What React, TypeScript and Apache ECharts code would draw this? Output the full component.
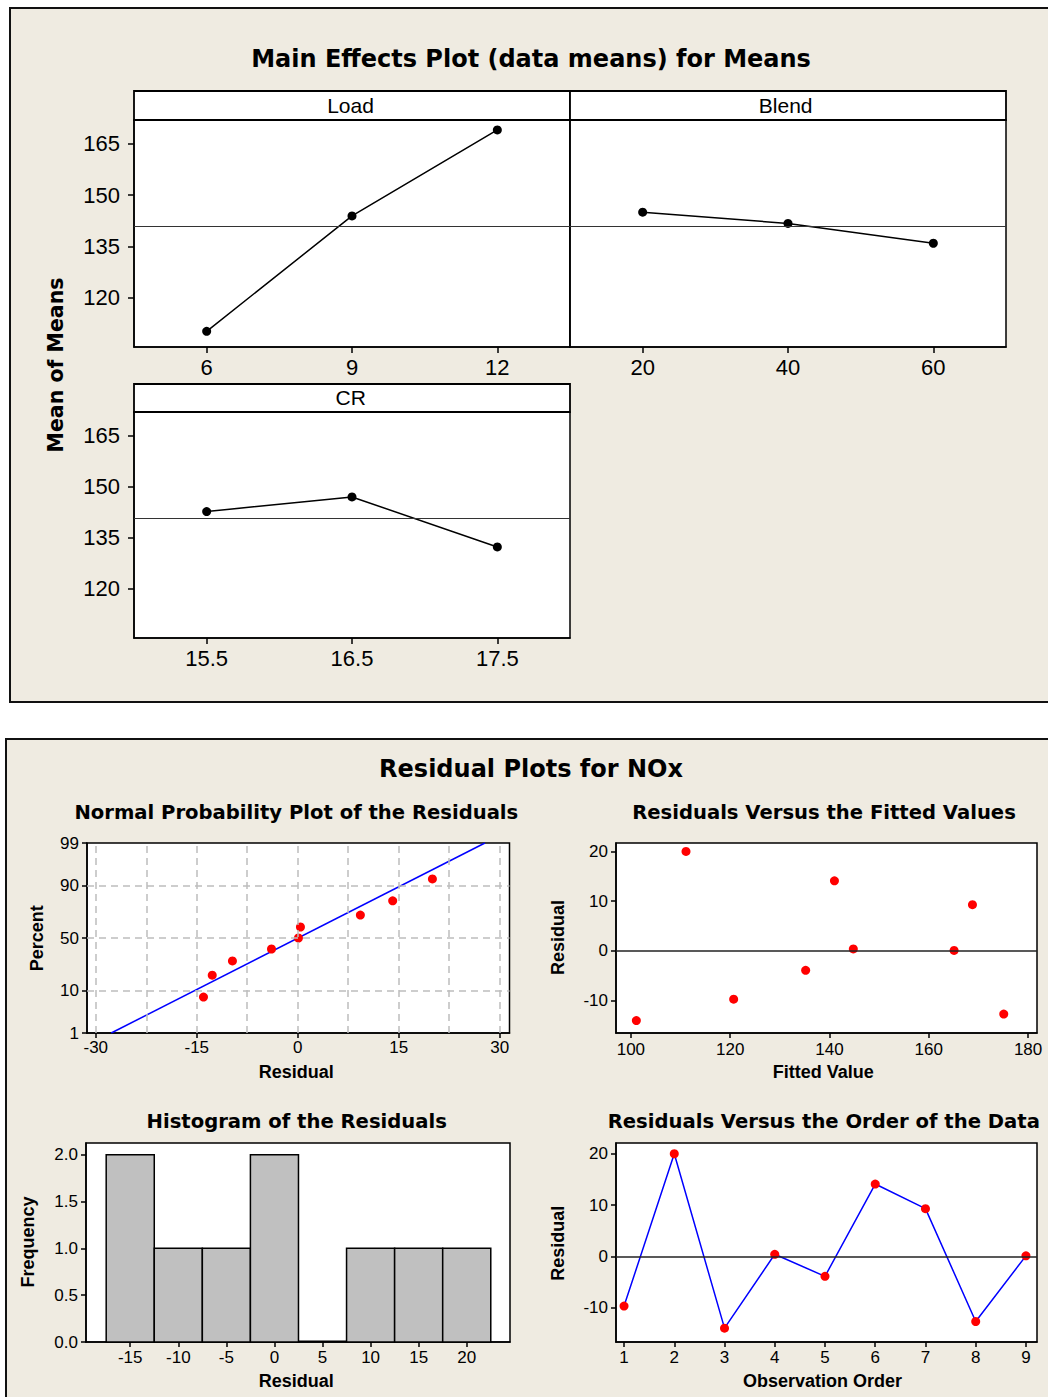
import React, { useEffect, useRef } from "react";
import * as echarts from "echarts";

// ---------------- Main effects data ----------------
const loadLevels = [6, 9, 12];
const loadMeans = [110.1, 143.9, 169.1];
const blendLevels = [20, 40, 60];
const blendMeans = [145.0, 141.7, 135.9];
const crLevels = [15.5, 16.5, 17.5];
const crMeans = [142.7, 147.0, 132.3];
const grandMean = 140.8;
const meanTicks = [120, 135, 150, 165];

// ---------------- Residual data ----------------
const observationOrder = [1, 2, 3, 4, 5, 6, 7, 8, 9];
const residuals = [-9.7, 20.0, -14.0, 0.4, -3.9, 14.1, 9.3, -12.7, 0.1];
const fittedValues = [120.7, 111.1, 101.1, 144.8, 135.2, 141.0, 168.8, 175.1, 165.1];

// normal probability plot (percent positions of the sorted residuals)
const normalPercents = [7.4, 18.1, 28.7, 39.4, 50.0, 60.6, 71.3, 81.9, 92.6];
const fitLineResiduals = [-27.7, 27.8];
const fitLinePercents = [1, 99];
const percentTicks = [1, 10, 50, 90, 99];
const percentGrid = [10, 50, 90];
const normalResidualTicks = [-30, -15, 0, 15, 30];
const normalResidualGrid = [-30, -22.5, -15, -7.5, 0, 7.5, 15, 22.5, 30];

// histogram
const binCenters = [-15, -10, -5, 0, 5, 10, 15, 20];
const binCounts = [2, 1, 1, 2, 0, 1, 1, 1];
const binWidth = 5;
const histXTicks = [-15, -10, -5, 0, 5, 10, 15, 20];
const histYTicks = [0, 0.5, 1, 1.5, 2];

const fittedXTicks = [100, 120, 140, 160, 180];
const residualTicks = [-10, 0, 10, 20];

// ---------------- helpers ----------------
const BEIGE = "#EFEBE1";
const LABEL_FONT = "Liberation Sans";
const BOLD_FONT = "DejaVu Sans";
const NAME_FONT = "Liberation Sans";
const SMALL = 17;
const LARGE = 22;

function probit(p: number): number {
  const a = [-3.969683028665376e1, 2.209460984245205e2, -2.759285104469687e2, 1.38357751867269e2, -3.066479806614716e1, 2.506628277459239];
  const b = [-5.447609879822406e1, 1.615858368580409e2, -1.556989798598866e2, 6.680131188771972e1, -1.328068155288572e1];
  const c = [-7.784894002430293e-3, -3.223964580411365e-1, -2.400758277161838, -2.549671010139372, 4.374664141464968, 2.938163982698783];
  const d = [7.784695709041462e-3, 3.224671290700398e-1, 2.445134137142996, 3.754408661907416];
  const pl = 0.02425;
  const ph = 1 - pl;
  if (p < pl) {
    const q = Math.sqrt(-2 * Math.log(p));
    return (((((c[0] * q + c[1]) * q + c[2]) * q + c[3]) * q + c[4]) * q + c[5]) / ((((d[0] * q + d[1]) * q + d[2]) * q + d[3]) * q + 1);
  }
  if (p <= ph) {
    const q = p - 0.5;
    const r = q * q;
    return ((((((a[0] * r + a[1]) * r + a[2]) * r + a[3]) * r + a[4]) * r + a[5]) * q) / (((((b[0] * r + b[1]) * r + b[2]) * r + b[3]) * r + b[4]) * r + 1);
  }
  const q = Math.sqrt(-2 * Math.log(1 - p));
  return -(((((c[0] * q + c[1]) * q + c[2]) * q + c[3]) * q + c[4]) * q + c[5]) / ((((d[0] * q + d[1]) * q + d[2]) * q + d[3]) * q + 1);
}
const zOf = (pct: number) => probit(pct / 100);

function valueAxis(
  gridIndex: number,
  min: number,
  max: number,
  ticks: number[],
  fontSize: number,
  margin: number,
  tickLen: number,
  show = true,
  formatter?: (v: number) => string
): any {
  return {
    type: "value",
    gridIndex,
    min,
    max,
    axisLine: { show: true, onZero: false, lineStyle: { color: "#000", width: 1.5 } },
    axisTick: { show, length: tickLen, customValues: ticks, lineStyle: { color: "#000", width: 1.5 } },
    axisLabel: {
      show,
      customValues: ticks,
      fontFamily: LABEL_FONT,
      fontSize,
      color: "#000",
      margin,
      showMinLabel: true,
      showMaxLabel: true,
      formatter,
    },
    splitLine: { show: false },
  };
}

function text(x: number, y: number, str: string, font: string, size: number, weight: string, rotate = 0): any {
  return {
    type: "text",
    x,
    y,
    rotation: rotate,
    z: 10,
    style: {
      text: str,
      fontFamily: font,
      fontSize: size,
      fontWeight: weight,
      fill: "#000",
      align: "center",
      verticalAlign: "middle",
    },
  };
}

function strip(x: number, y: number, w: number, h: number, label: string, cx: number, cy: number): any[] {
  return [
    { type: "rect", z: 5, shape: { x, y, width: w, height: h }, style: { fill: "#fff", stroke: "#000", lineWidth: 1.8 } },
    text(cx, cy, label, LABEL_FONT, 21, "normal"),
  ];
}

function meanLine(): any {
  return {
    silent: true,
    symbol: "none",
    label: { show: false },
    lineStyle: { color: "#333", width: 1.2, type: "solid" },
    data: [{ yAxis: grandMean }],
  };
}

function effectSeries(idx: number, levels: number[], means: number[]): any {
  return {
    type: "line",
    xAxisIndex: idx,
    yAxisIndex: idx,
    data: levels.map((x, i) => [x, means[i]]),
    symbol: "circle",
    symbolSize: 9,
    itemStyle: { color: "#000", opacity: 1 },
    lineStyle: { color: "#000", width: 1.5 },
    markLine: meanLine(),
  };
}

function buildOption(): any {
  const zTicks = percentTicks.map(zOf);
  const pctFormatter = (v: number) => {
    const i = zTicks.findIndex((z) => Math.abs(z - v) < 1e-6);
    return i >= 0 ? String(percentTicks[i]) : "";
  };
  const sorted = residuals.slice().sort((a, b) => a - b);

  const grid = [
    { left: 134, top: 120, width: 436, height: 227 },
    { left: 570, top: 120, width: 436, height: 227 },
    { left: 134, top: 412, width: 436, height: 226 },
    { left: 87, top: 843, width: 422.5, height: 190 },
    { left: 616, top: 843, width: 421, height: 190 },
    { left: 86, top: 1143, width: 424, height: 199 },
    { left: 616, top: 1143, width: 421, height: 199 },
  ].map((g) => ({ ...g, show: true, backgroundColor: "#fff", borderColor: "#000", borderWidth: 1.5, containLabel: false }));

  const xAxis = [
    valueAxis(0, 4.5, 13.5, loadLevels, LARGE, 9, 6),
    valueAxis(1, 10, 70, blendLevels, LARGE, 9, 6),
    valueAxis(2, 15, 18, crLevels, LARGE, 9, 6),
    valueAxis(3, -31.3, 31.45, normalResidualTicks, SMALL, 6, 5),
    valueAxis(4, 97, 181.8, fittedXTicks, SMALL, 8, 5),
    valueAxis(5, -19.6, 24.5, histXTicks, SMALL, 7, 5),
    valueAxis(6, 0.84, 9.22, observationOrder, SMALL, 7, 5),
  ];
  const yAxis = [
    valueAxis(0, 105.5, 172, meanTicks, LARGE, 14, 6),
    valueAxis(1, 105.5, 172, meanTicks, LARGE, 14, 6, false),
    valueAxis(2, 105.5, 172, meanTicks, LARGE, 14, 6),
    valueAxis(3, zOf(1), zOf(99), zTicks, SMALL, 8, 5, true, pctFormatter),
    valueAxis(4, -16.5, 21.7, residualTicks, SMALL, 8, 5),
    valueAxis(5, 0, 2.125, histYTicks, SMALL, 8, 5, true, (v: number) => v.toFixed(1)),
    valueAxis(6, -16.7, 22.1, residualTicks, SMALL, 8, 5),
  ];

  const dashed = { color: "#BDBDBD", width: 1.5, type: [7, 5] };
  const red = { color: "#FF0000", opacity: 1 };

  const series: any[] = [
    effectSeries(0, loadLevels, loadMeans),
    effectSeries(1, blendLevels, blendMeans),
    effectSeries(2, crLevels, crMeans),
    // normal probability: reference grid + fitted line
    {
      type: "line",
      xAxisIndex: 3,
      yAxisIndex: 3,
      z: 2,
      data: fitLineResiduals.map((r, i) => [r, zOf(fitLinePercents[i])]),
      showSymbol: false,
      symbol: "none",
      lineStyle: { color: "#0000FF", width: 1.5 },
      markLine: {
        silent: true,
        symbol: "none",
        label: { show: false },
        lineStyle: dashed,
        data: [
          ...percentGrid.map((p) => ({ yAxis: zOf(p) })),
          ...normalResidualGrid.map((r) => ({ xAxis: r })),
        ],
      },
    },
    {
      type: "scatter",
      xAxisIndex: 3,
      yAxisIndex: 3,
      z: 4,
      data: sorted.map((r, i) => [r, zOf(normalPercents[i])]),
      symbol: "circle",
      symbolSize: 9,
      itemStyle: red,
    },
    // residuals vs fitted
    {
      type: "scatter",
      xAxisIndex: 4,
      yAxisIndex: 4,
      z: 4,
      data: fittedValues.map((f, i) => [f, residuals[i]]),
      symbol: "circle",
      symbolSize: 9,
      itemStyle: red,
      markLine: {
        silent: true,
        symbol: "none",
        label: { show: false },
        lineStyle: { color: "#222", width: 1.5, type: "solid" },
        data: [{ yAxis: 0 }],
      },
    },
    // histogram
    {
      type: "custom",
      xAxisIndex: 5,
      yAxisIndex: 5,
      data: binCenters.map((c, i) => [c - binWidth / 2, c + binWidth / 2, binCounts[i]]),
      encode: { x: [0, 1], y: 2 },
      renderItem: (_params: any, api: any) => {
        const p0 = api.coord([api.value(0), api.value(2)]);
        const p1 = api.coord([api.value(1), 0]);
        const h = p1[1] - p0[1];
        if (h < 0.5) {
          return {
            type: "line",
            shape: { x1: p0[0], y1: p1[1] - 0.5, x2: p1[0], y2: p1[1] - 0.5 },
            style: { stroke: "#000", lineWidth: 2 },
          };
        }
        return {
          type: "rect",
          shape: { x: p0[0], y: p0[1], width: p1[0] - p0[0], height: h },
          style: { fill: "#C0C0C0", stroke: "#000", lineWidth: 1.5 },
        };
      },
    },
    // residuals vs order
    {
      type: "line",
      xAxisIndex: 6,
      yAxisIndex: 6,
      z: 4,
      data: observationOrder.map((o, i) => [o, residuals[i]]),
      symbol: "circle",
      symbolSize: 9,
      itemStyle: red,
      lineStyle: { color: "#0000FF", width: 1.5 },
      markLine: {
        silent: true,
        symbol: "none",
        label: { show: false },
        lineStyle: { color: "#222", width: 1.5, type: "solid" },
        data: [{ yAxis: 0 }],
      },
    },
  ];

  const graphic: any[] = [
    { type: "rect", z: -10, shape: { x: 10, y: 8, width: 1045, height: 694 }, style: { fill: BEIGE, stroke: "#111", lineWidth: 2 } },
    { type: "rect", z: -10, shape: { x: 6, y: 739, width: 1050, height: 680 }, style: { fill: BEIGE, stroke: "#111", lineWidth: 2 } },
    ...strip(134, 91, 436, 29, "Load", 350.5, 105),
    ...strip(570, 91, 436, 29, "Blend", 785.7, 105),
    ...strip(134, 384, 436, 28, "CR", 350.7, 397.7),
    text(531, 58.5, "Main Effects Plot (data means) for Means", BOLD_FONT, 24, "bold"),
    text(56.2, 365, "Mean of Means", BOLD_FONT, 20.5, "bold", Math.PI / 2),
    text(531, 768.5, "Residual Plots for NOx", BOLD_FONT, 24, "bold"),
    text(296.3, 812, "Normal Probability Plot of the Residuals", BOLD_FONT, 19.6, "bold"),
    text(824, 812, "Residuals Versus the Fitted Values", BOLD_FONT, 19.6, "bold"),
    text(296.7, 1121.5, "Histogram of the Residuals", BOLD_FONT, 19.6, "bold"),
    text(823.8, 1121.5, "Residuals Versus the Order of the Data", BOLD_FONT, 19.6, "bold"),
    text(296.3, 1072, "Residual", NAME_FONT, 18, "bold"),
    text(823.3, 1072, "Fitted Value", NAME_FONT, 18, "bold"),
    text(296.3, 1381, "Residual", NAME_FONT, 18, "bold"),
    text(822.5, 1381, "Observation Order", NAME_FONT, 18, "bold"),
    text(36.8, 938.3, "Percent", NAME_FONT, 18, "bold", Math.PI / 2),
    text(558.1, 937.5, "Residual", NAME_FONT, 18, "bold", Math.PI / 2),
    text(27.9, 1242, "Frequency", NAME_FONT, 18, "bold", Math.PI / 2),
    text(558.1, 1243.3, "Residual", NAME_FONT, 18, "bold", Math.PI / 2),
  ];

  return {
    animation: false,
    backgroundColor: "#fff",
    grid,
    xAxis,
    yAxis,
    series,
    graphic,
  };
}

export default function App() {
  const ref = useRef<HTMLDivElement>(null);
  useEffect(() => {
    if (!ref.current) return;
    const chart = echarts.init(ref.current, null, { renderer: "svg" });
    chart.setOption(buildOption());
    return () => chart.dispose();
  }, []);
  return <div ref={ref} style={{ position: "absolute", left: 0, top: 0, width: 1048, height: 1397 }} />;
}
